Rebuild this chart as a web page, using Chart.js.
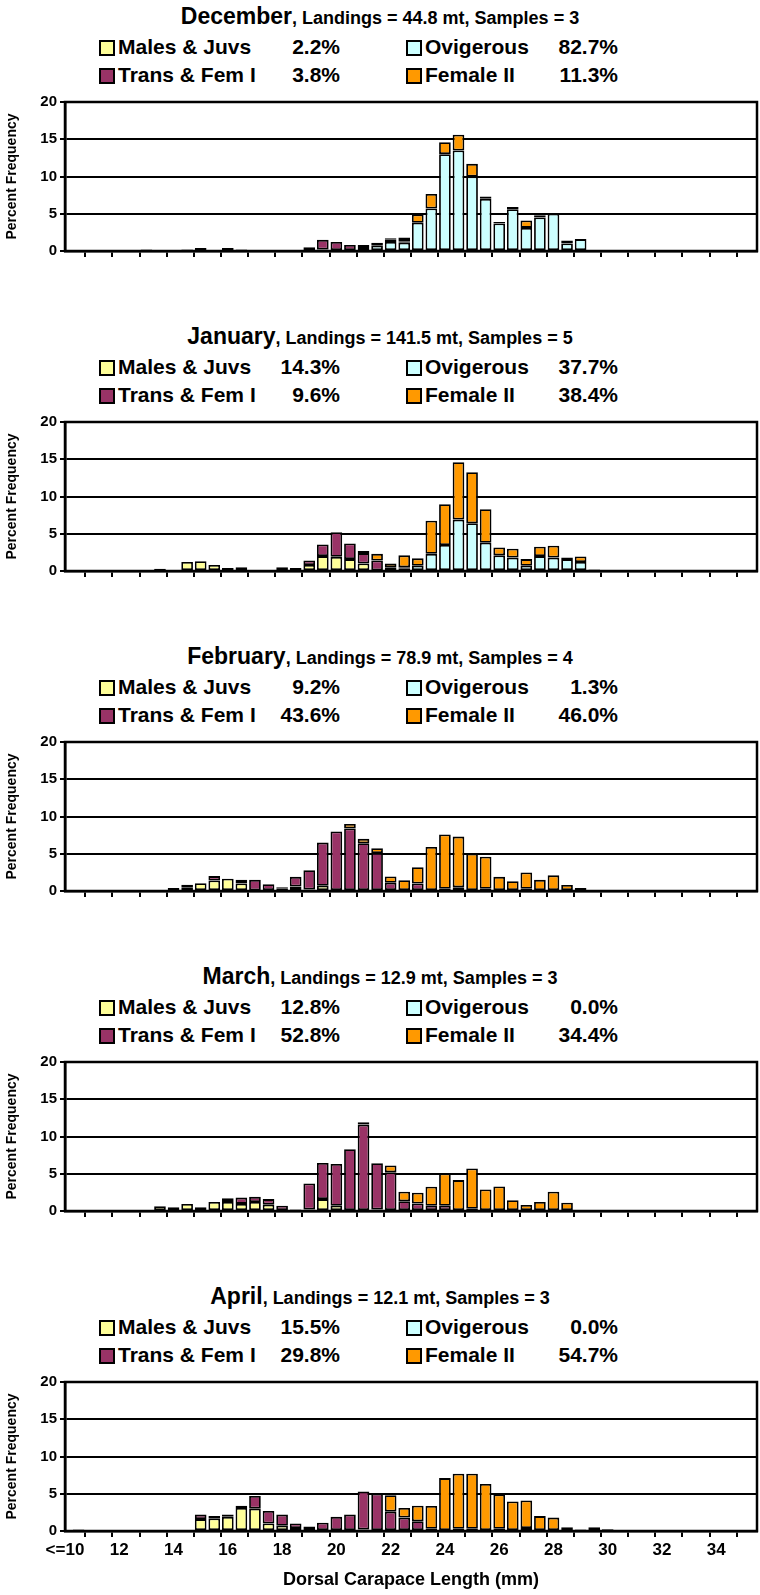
<!DOCTYPE html>
<html>
<head>
<meta charset="utf-8">
<script src="https://cdn.jsdelivr.net/npm/chart.js@4"></script>
<style>
  body { margin: 0; background: #fff; font-family: "Liberation Sans", Arial, sans-serif; }
  .panel { position: absolute; left: 0; width: 760px; height: 320px; }
  .title { position: absolute; top: 3px; left: 0; width: 760px; text-align: center; font-weight: bold; font-size: 18px; }
  .title b { font-size: 23px; }
  .leg { position: absolute; font-weight: bold; font-size: 21px; white-space: nowrap; line-height: 24px; }
  .sq { position: absolute; width: 12px; height: 12px; border: 2px solid #000; top: 5px; left: -19px; }
  .pct { position: absolute; font-weight: bold; font-size: 21px; text-align: right; line-height: 24px; }
  canvas { position: absolute; left: 0; }
</style>
</head>
<body>
<script>
// size bins, 0.5 mm wide
const sizeBins = [10, 10.5, 11, 11.5, 12, 12.5, 13, 13.5, 14, 14.5, 15, 15.5, 16, 16.5, 17, 17.5,
  18, 18.5, 19, 19.5, 20, 20.5, 21, 21.5, 22, 22.5, 23, 23.5, 24, 24.5, 25, 25.5, 26, 26.5,
  27, 27.5, 28, 28.5, 29, 29.5, 30, 30.5, 31, 31.5, 32, 32.5, 33, 33.5, 34, 34.5, 35, 35.5]
const tickLabels = ["<=10", "12", "14", "16", "18", "20", "22", "24", "26", "28", "30", "32", "34"]

const groupNames = ["Males & Juvs", "Ovigerous", "Trans & Fem I", "Female II"]
const groupColors = ["#FFFF99", "#CCFFFF", "#993366", "#FF9900"]

const months = ["December", "January", "February", "March", "April"]
const landings = ["44.8", "141.5", "78.9", "12.9", "12.1"]
const samples = [3, 5, 4, 3, 3]
// percent of each group: males, ovigerous, trans, female II
const pctMales = ["2.2%", "14.3%", "9.2%", "12.8%", "15.5%"]
const pctOvig = ["82.7%", "37.7%", "1.3%", "0.0%", "0.0%"]
const pctTrans = ["3.8%", "9.6%", "43.6%", "52.8%", "29.8%"]
const pctFemale = ["11.3%", "38.4%", "46.0%", "34.4%", "54.7%"]

// [size, percent] pairs per group per month
const decMales = [[15, 0.4], [16, 0.4], [19.5, 0.2]]
const decOvig = [[21, 0.4], [21.5, 0.7], [22, 1.2], [22.5, 1.1], [23, 3.8], [23.5, 5.7], [24, 13.0], [24.5, 13.5],
  [25, 10.0], [25.5, 7.0], [26, 3.7], [26.5, 5.6], [27, 3.1], [27.5, 4.5], [28, 5.0], [28.5, 1.0], [29, 1.6]]
const decTrans = [[13, 0.2], [14.5, 0.2], [16.5, 0.2], [19, 0.5], [19.5, 1.3], [20, 1.2], [20.5, 0.8], [21, 0.4],
  [21.5, 0.4], [22, 0.3], [22.5, 0.2], [28.5, 0.2]]
const decFemale = [[22, 0.2], [22.5, 0.5], [23, 1.1], [23.5, 1.95], [24, 1.6], [24.5, 2.1], [25, 1.7], [25.5, 0.3],
  [26, 0.2], [26.5, 0.3], [27, 1.0], [27.5, 0.3], [28, 0.1], [28.5, 0.2]]

const janMales = [[14.5, 1.2], [15, 1.3], [15.5, 0.8], [16, 0.4], [16.5, 0.5], [19, 0.8], [19.5, 2.0], [20, 1.9],
  [20.5, 1.6], [21, 1.0], [21.5, 0.1]]
const janOvig = [[22.5, 0.3], [23, 0.7], [23.5, 2.3], [24, 3.5], [24.5, 6.9], [25, 6.4], [25.5, 3.8], [26, 2.1],
  [26.5, 1.8], [27, 0.7], [27.5, 2.0], [28, 1.8], [28.5, 1.6], [29, 1.2]]
const janTrans = [[13.5, 0.3], [18, 0.5], [18.5, 0.4], [19, 0.6], [19.5, 1.55], [20, 3.3], [20.5, 2.1], [21, 1.4],
  [21.5, 1.3], [22, 0.5], [22.5, 0.2], [29.5, 0.2], [30.5, 0.1]]
const janFemale = [[21, 0.3], [21.5, 0.9], [22, 0.5], [22.5, 1.6], [23, 1.0], [23.5, 4.45], [24, 5.45], [24.5, 7.7],
  [25, 6.85], [25.5, 4.5], [26, 1.05], [26.5, 1.2], [27, 0.9], [27.5, 1.25], [28, 1.6], [28.5, 0.2], [29, 0.75]]

const febMales = [[14, 0.4], [14.5, 0.5], [15, 1.05], [15.5, 1.4], [16, 1.65], [16.5, 1.0], [17, 0.1], [18, 0.3],
  [18.5, 0.6], [19, 0.2], [19.5, 0.7]]
const febOvig = [[25.5, 0.3], [27, 0.3]]
const febTrans = [[10, 0.1], [12.5, 0.1], [13.5, 0.1], [14.5, 0.35], [15.5, 0.6], [16.5, 0.5], [17, 1.4], [17.5, 0.9],
  [18, 0.2], [18.5, 1.3], [19, 2.6], [19.5, 5.8], [20, 8.0], [20.5, 8.4], [21, 6.4], [21.5, 5.1], [22, 1.1],
  [23, 1.0], [24, 0.3], [24.5, 0.5], [29.5, 0.05]]
const febFemale = [[20.5, 0.6], [21, 0.6], [21.5, 0.65], [22, 0.85], [22.5, 1.45], [23, 2.2], [23.5, 5.9], [24, 7.3],
  [24.5, 6.8], [25, 5.0], [25.5, 4.3], [26, 1.9], [26.5, 1.3], [27, 2.2], [27.5, 1.5], [28, 2.1], [28.5, 0.8], [29, 0.4]]

const marMales = [[13.5, 0.65], [14, 0.5], [14.5, 0.95], [15, 0.5], [15.5, 1.2], [16, 1.2], [16.5, 0.95], [17, 1.2],
  [17.5, 0.85], [19, 0.2], [19.5, 1.6], [20, 0.7], [21.5, 0.2]]
const marOvig = []
const marTrans = [[10, 0.05], [12, 0.1], [12.5, 0.05], [13, 0.05], [16, 0.5], [16.5, 0.85], [17, 0.7], [17.5, 0.75],
  [18, 0.7], [18.5, 0.2], [19, 3.5], [19.5, 4.85], [20, 5.6], [20.5, 8.3], [21, 11.6], [21.5, 6.2], [22, 5.2],
  [22.5, 1.3], [23, 1.0], [23.5, 0.7], [24, 0.7], [25, 0.3]]
const marFemale = [[21, 0.3], [22, 0.9], [22.5, 1.3], [23, 1.45], [23.5, 2.55], [24, 4.35], [24.5, 4.15], [25, 5.4],
  [25.5, 2.9], [26, 3.3], [26.5, 1.45], [27, 0.8], [27.5, 1.2], [28, 2.6], [28.5, 1.1], [29, 0.1], [29.5, 0.15],
  [30, 0.15], [30.5, 0.1]]

const aprMales = [[10.5, 0.2], [15, 1.6], [15.5, 1.7], [16, 1.9], [16.5, 3.1], [17, 3.0], [17.5, 1.0], [18, 0.7],
  [18.5, 0.4], [21, 0.2]]
const aprOvig = []
const aprTrans = [[10, 0.1], [12, 0.15], [13.5, 0.15], [14.5, 0.1], [15, 0.6], [15.5, 0.3], [16, 0.3], [16.5, 0.3],
  [17, 1.7], [17.5, 1.7], [18, 1.5], [18.5, 0.6], [19, 0.6], [19.5, 1.1], [20, 1.9], [20.5, 2.2], [21, 5.1],
  [21.5, 5.0], [22, 2.6], [22.5, 1.8], [23, 1.3], [23.5, 0.3], [24.5, 0.3], [25, 0.3], [26, 0.3], [27, 0.4], [29, 0.2]]
const aprFemale = [[22, 2.2], [22.5, 1.3], [23, 2.1], [23.5, 3.05], [24, 7.1], [24.5, 7.4], [25, 7.4], [25.5, 6.3],
  [26, 4.6], [26.5, 3.95], [27, 3.7], [27.5, 2.0], [28, 1.8], [28.5, 0.5], [29.5, 0.5], [30, 0.25]]

const monthSeries = [
  [decMales, decOvig, decTrans, decFemale],
  [janMales, janOvig, janTrans, janFemale],
  [febMales, febOvig, febTrans, febFemale],
  [marMales, marOvig, marTrans, marFemale],
  [aprMales, aprOvig, aprTrans, aprFemale],
]

const PANEL_H = 320

// turns [size, value] pairs into one value per bin
const toBins = (pairs) => sizeBins.map((s) => {
  const hit = pairs.find((p) => p[0] === s)
  return hit ? hit[1] : 0
})

// black frame round the plot area
const frame = {
  id: "frame",
  afterDraw(chart) {
    const { ctx, chartArea: a } = chart
    ctx.save()
    ctx.strokeStyle = "#000"
    ctx.lineWidth = 2.5
    ctx.strokeRect(a.left, a.top, a.right - a.left, a.bottom - a.top)
    ctx.restore()
  },
}

const addLegend = (panel, i) => {
  const items = [
    [0, 118, 35, pctMales[i], 340],
    [1, 425, 35, pctOvig[i], 618],
    [2, 118, 63, pctTrans[i], 340],
    [3, 425, 63, pctFemale[i], 618],
  ]
  items.forEach(([g, x, y, pct, right]) => {
    const el = document.createElement("div")
    el.className = "leg"
    el.style.left = x + "px"
    el.style.top = y + "px"
    el.innerHTML = `<span class="sq" style="background:${groupColors[g]}"></span>${groupNames[g]}`
    panel.appendChild(el)
    const p = document.createElement("div")
    p.className = "pct"
    p.style.left = (right - 100) + "px"
    p.style.width = "100px"
    p.style.top = y + "px"
    p.textContent = pct
    panel.appendChild(p)
  })
}

months.forEach((month, i) => {
  const panel = document.createElement("div")
  panel.className = "panel"
  panel.style.top = i * PANEL_H + "px"
  document.body.appendChild(panel)

  const title = document.createElement("div")
  title.className = "title"
  title.innerHTML = `<b>${month}</b>, Landings = ${landings[i]} mt, Samples = ${samples[i]}`
  panel.appendChild(title)
  addLegend(panel, i)

  const canvas = document.createElement("canvas")
  canvas.style.top = "90px"
  canvas.style.width = "760px"
  canvas.style.height = "225px"
  canvas.width = 760
  canvas.height = 225
  panel.appendChild(canvas)

  const isLast = i === months.length - 1

  new Chart(canvas, {
    type: "bar",
    data: {
      labels: sizeBins,
      datasets: monthSeries[i].map((pairs, g) => ({
        label: groupNames[g],
        data: toBins(pairs),
        backgroundColor: groupColors[g],
        borderColor: "#000",
        borderWidth: 1.8,
        borderSkipped: false,
        categoryPercentage: 1,
        barPercentage: 0.86,
      })),
    },
    options: {
      responsive: false,
      animation: false,
      devicePixelRatio: 1,
      layout: { padding: { left: 0, right: 3, top: 9, bottom: 0 } },
      plugins: { legend: { display: false }, tooltip: { enabled: false } },
      scales: {
        x: {
          stacked: true,
          offset: false,
          afterFit: (scale) => { scale.height = 64 },
          grid: {
            drawOnChartArea: false,
            tickLength: 6,
            lineWidth: 2,
            tickColor: (ctx) => (ctx.index % 2 === 0 ? "#000" : "rgba(0,0,0,0)"),
          },
          border: { color: "#000", width: 2.5 },
          ticks: {
            autoSkip: false,
            maxRotation: 0,
            color: "#000",
            padding: 3,
            font: { family: "Liberation Sans", weight: "bold", size: 17 },
          callback: (v, idx) => (isLast && idx % 4 === 0 ? tickLabels[idx / 4] : ""),
          },
          title: {
            display: isLast,
            text: "Dorsal Carapace Length (mm)",
            color: "#000",
            padding: { top: 2 },
            font: { family: "Liberation Sans", weight: "bold", size: 18 },
          },
        },
        y: {
          stacked: true,
          min: 0,
          max: 20,
          afterFit: (scale) => { scale.width = 65 },
          grid: { color: "#000", lineWidth: 2, tickLength: 5 },
          border: { color: "#000", width: 2.5 },
          ticks: {
            stepSize: 5,
            color: "#000",
            padding: 3,
            font: { family: "Liberation Sans", weight: "bold", size: 15 },
          },
          title: {
            display: true,
            text: "Percent Frequency",
            color: "#000",
            padding: { bottom: 2 },
            font: { family: "Liberation Sans", weight: "bold", size: 14 },
          },
        },
      },
    },
    plugins: [frame],
  })
})
</script>
</body>
</html>
